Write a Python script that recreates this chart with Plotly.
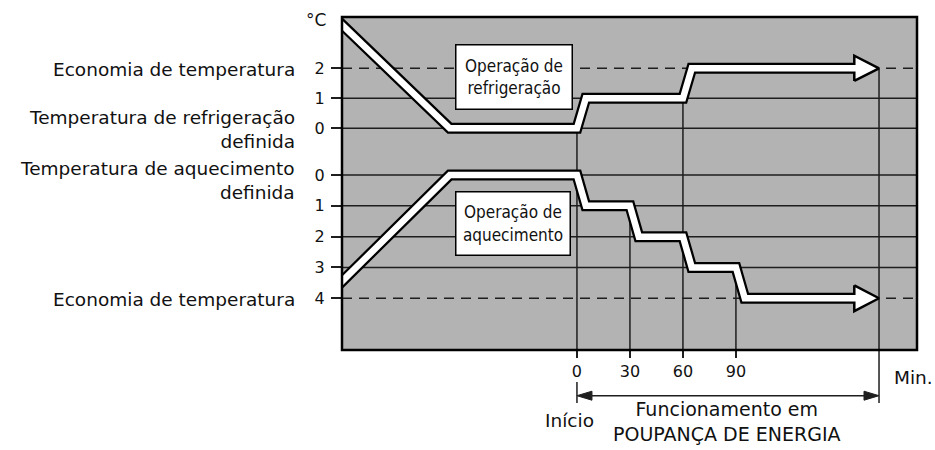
import plotly.graph_objects as go

# ---- data -------------------------------------------------------------
# time axis in minutes (0 = start of energy-saving operation)
cool_time = [-140, -72, 0, 5, 60, 65, 171]
cool_offset = [3.85, 0, 0, 1, 1, 2, 2]          # °C above cooling set point

heat_time = [-140, -72, 0, 5, 30, 35, 60, 65, 90, 95, 171]
heat_offset = [3.85, 0, 0, 1, 1, 2, 2, 3, 3, 4, 4]  # °C below heating set point

x_ticks = [0, 30, 60, 90]
cool_ticks = [0, 1, 2]
heat_ticks = [0, 1, 2, 3, 4]
saving_limit_cool = 2
saving_limit_heat = 4
end_time = 171

# ---- layout helpers -------------------------------------------------------
W, H = 935, 450
L, R, T, B = 342, 917, 17, 350          # plot area in pixels
X_RANGE = [-133, 192.5]
Y_COOL = [-7.39, 3.71]
Y_HEAT = [5.68, -5.13]                   # reversed: offsets grow downwards

def px(x):
    return (x - L) / (R - L)

def py(y):
    return (B - y) / (B - T)

DARK = "#1e1e1e"
GRAY = "#b3b3b3"
LABEL_FONT = dict(family="DejaVu Sans", size=18.5, color="#111")
BOX_FONT = dict(family="DejaVu Sans Condensed, sans-serif", size=17, color="#111")

fig = go.Figure()

HEAD_LEN = 14      # arrow head length (min)
HEAD_HALF = 0.42   # arrow head half height (°C)

def band(times, vals, yaxis):
    base = times[-1] - HEAD_LEN
    tx = times[:-1] + [base]
    # black outline of the band
    fig.add_trace(go.Scatter(x=tx, y=vals, mode="lines", yaxis=yaxis,
                             line=dict(color="black", width=11),
                             hoverinfo="skip", showlegend=False))
    return tx, base

def head(times, vals, yaxis, base):
    tip, v = times[-1], vals[-1]
    fig.add_trace(go.Scatter(x=[base, tip, base, base],
                             y=[v - HEAD_HALF, v, v + HEAD_HALF, v - HEAD_HALF],
                             mode="lines", fill="toself", fillcolor="white",
                             yaxis=yaxis, line=dict(color="black", width=2.5),
                             hoverinfo="skip", showlegend=False))

def core(tx, vals, yaxis):
    tx = tx[:-1] + [tx[-1] + 4]
    fig.add_trace(go.Scatter(x=tx, y=vals, mode="lines", yaxis=yaxis,
                             line=dict(color="white", width=6.5),
                             hoverinfo="skip", showlegend=False))

c_tx, c_base = band(cool_time, cool_offset, "y")
h_tx, h_base = band(heat_time, heat_offset, "y2")
head(cool_time, cool_offset, "y", c_base)
head(heat_time, heat_offset, "y2", h_base)
core(c_tx, cool_offset, "y")
core(h_tx, heat_offset, "y2")

shapes = []
# horizontal reference lines
for v in cool_ticks:
    dash = "10px,7px" if v == saving_limit_cool else "solid"
    shapes.append(dict(type="line", xref="paper", yref="y", x0=0, x1=1, y0=v, y1=v,
                       line=dict(color=DARK, width=1.5, dash=dash), layer="below"))
for v in heat_ticks:
    dash = "10px,7px" if v == saving_limit_heat else "solid"
    shapes.append(dict(type="line", xref="paper", yref="y2", x0=0, x1=1, y0=v, y1=v,
                       line=dict(color=DARK, width=1.5, dash=dash), layer="below"))

# vertical time markers, starting at the curve they belong to
markers = [(0, "y", 0), (30, "y2", 1), (60, "y", 1), (90, "y2", 3)]
for t, ref, lvl in markers:
    shapes.append(dict(type="line", xref="x", yref=ref, x0=t, x1=t, y0=lvl,
                       y1=Y_COOL[0] if ref == "y" else Y_HEAT[0],
                       line=dict(color=DARK, width=1.5), layer="below"))
# end-of-period line, down to the span arrow
shapes.append(dict(type="line", xref="x", yref="y", x0=end_time, x1=end_time,
                   y0=saving_limit_cool, y1=Y_COOL[0],
                   line=dict(color=DARK, width=1.5), layer="below"))
shapes.append(dict(type="line", xref="x", yref="paper", x0=end_time, x1=end_time,
                   y0=py(B), y1=py(403), line=dict(color=DARK, width=1.5)))
shapes.append(dict(type="line", xref="x", yref="paper", x0=0, x1=0,
                   y0=py(382), y1=py(403), line=dict(color=DARK, width=1.5)))

# span arrow for the energy-saving period
ya = py(395.7)
ah_len = 8.5
ah_half = 4.5 / (B - T)
shapes.append(dict(type="line", xref="x", yref="paper", x0=ah_len, x1=end_time - ah_len,
                   y0=ya, y1=ya, line=dict(color=DARK, width=1.5)))
shapes.append(dict(type="path", xref="x", yref="paper",
                   path=f"M 0 {ya} L {ah_len} {ya + ah_half} L {ah_len} {ya - ah_half} Z",
                   fillcolor=DARK, line=dict(color=DARK, width=1)))
shapes.append(dict(type="path", xref="x", yref="paper",
                   path=(f"M {end_time} {ya} L {end_time - ah_len} {ya + ah_half} "
                         f"L {end_time - ah_len} {ya - ah_half} Z"),
                   fillcolor=DARK, line=dict(color=DARK, width=1)))

# plot frame
shapes.append(dict(type="rect", xref="paper", yref="paper", x0=0, x1=1, y0=0, y1=1,
                   line=dict(color="black", width=2.5), layer="above"))

annotations = [
    dict(x=px(297), y=py(69), text="Economia de temperatura",
         xanchor="right", yanchor="middle", font=LABEL_FONT),
    dict(x=px(297), y=py(129), text="Temperatura de refrigeração<br>definida",
         xanchor="right", yanchor="middle", align="right", font=LABEL_FONT),
    dict(x=px(297), y=py(180), text="Temperatura de aquecimento<br>definida",
         xanchor="right", yanchor="middle", align="right", font=LABEL_FONT),
    dict(x=px(297), y=py(299), text="Economia de temperatura",
         xanchor="right", yanchor="middle", font=LABEL_FONT),
    dict(x=px(316), y=py(20), text="°C", xanchor="center", yanchor="middle",
         font=dict(family="DejaVu Sans", size=17, color="#111")),
    dict(x=px(513.5), y=py(77.5), text="Operação de<br>refrigeração",
         xanchor="center", yanchor="middle", font=BOX_FONT, bgcolor="white",
         bordercolor="black", borderwidth=1.5, borderpad=1, width=113, height=61),
    dict(x=px(512.5), y=py(223.4), text="Operação de<br>aquecimento",
         xanchor="center", yanchor="middle", font=BOX_FONT, bgcolor="white",
         bordercolor="black", borderwidth=1.5, borderpad=1, width=111, height=60),
    dict(x=px(892), y=py(377), text="Min.", xanchor="left", yanchor="middle",
         font=LABEL_FONT),
    dict(x=px(569), y=py(420), text="Início", xanchor="center", yanchor="middle",
         font=LABEL_FONT),
    dict(x=px(727), y=py(421), text="Funcionamento em<br>POUPANÇA DE ENERGIA",
         xanchor="center", yanchor="middle", align="center",
         font=dict(family="DejaVu Sans", size=19, color="#111")),
]
for a in annotations:
    a.update(xref="paper", yref="paper", showarrow=False)

tick_font = dict(family="DejaVu Sans", size=16, color="#111")
fig.update_layout(
    width=W, height=H,
    margin=dict(l=L, r=W - R, t=T, b=H - B, pad=0),
    paper_bgcolor="white", plot_bgcolor=GRAY,
    showlegend=False,
    shapes=shapes, annotations=annotations,
    xaxis=dict(range=X_RANGE, tickvals=x_ticks, ticktext=[str(v) for v in x_ticks],
               ticks="outside", ticklen=7, tickwidth=1.5, tickcolor=DARK,
               showgrid=False, zeroline=False, showline=False, tickfont=tick_font),
    yaxis=dict(range=Y_COOL, tickvals=cool_ticks, ticktext=[str(v) for v in cool_ticks],
               ticks="outside", ticklen=10, tickwidth=1.5, tickcolor=DARK,
               showgrid=False, zeroline=False, showline=False, tickfont=tick_font,
               ticklabelstandoff=3),
    yaxis2=dict(range=Y_HEAT, overlaying="y", side="left",
                tickvals=heat_ticks, ticktext=[str(v) for v in heat_ticks],
                ticks="outside", ticklen=10, tickwidth=1.5, tickcolor=DARK,
                showgrid=False, zeroline=False, showline=False, tickfont=tick_font,
                ticklabelstandoff=3),
)

fig.write_html("out.html")
